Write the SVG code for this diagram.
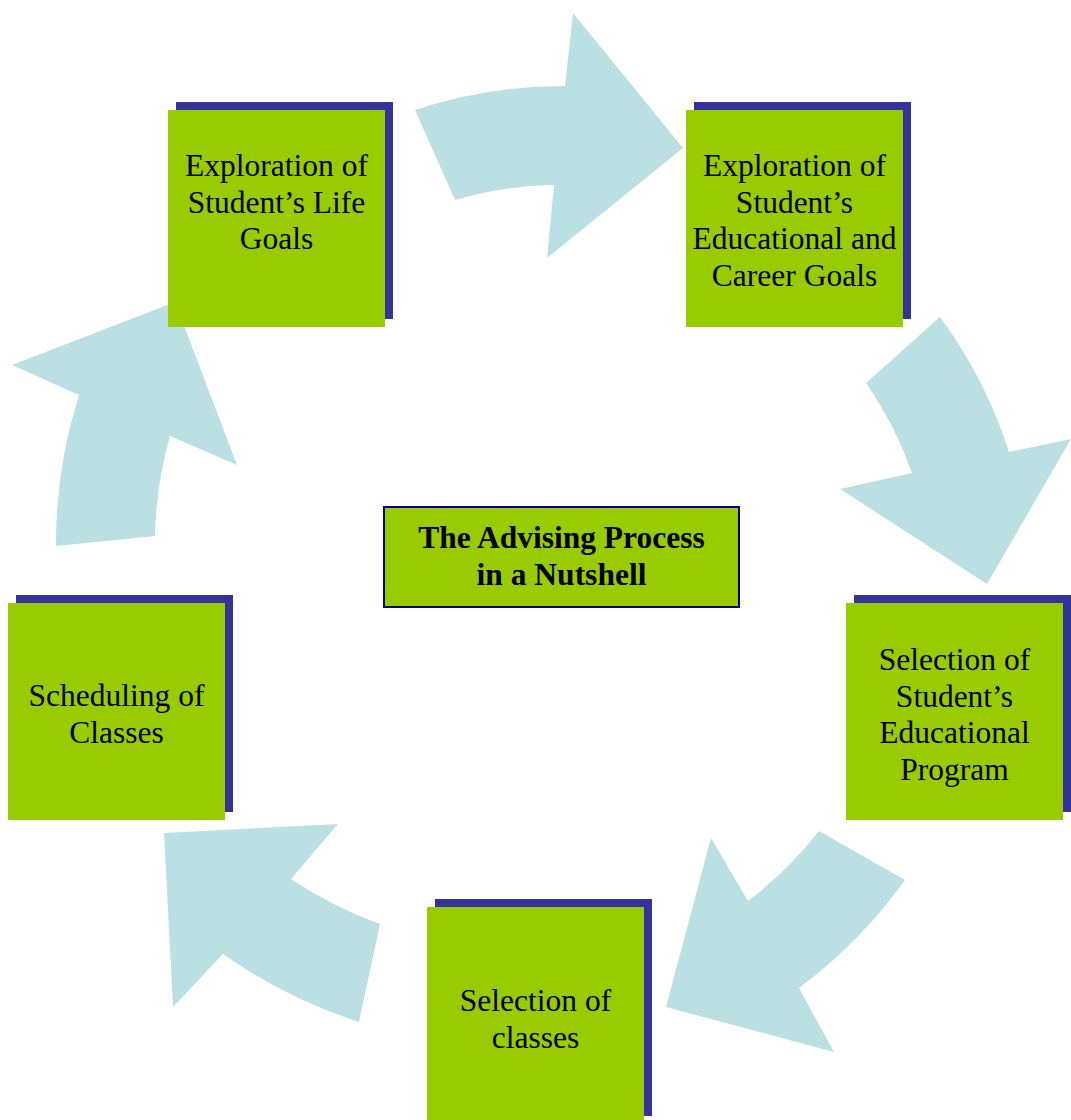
<svg xmlns="http://www.w3.org/2000/svg" width="1071" height="1120" viewBox="0 0 1071 1120">
<style>
.arrow{fill:#BBE0E3;stroke:none}
.shadow{fill:#333399}
.box{fill:#99CC00}
.t{font-family:"Liberation Serif","Times New Roman",serif;font-size:31.5px;fill:#000;text-anchor:middle}
.b{font-weight:bold}
</style>
<rect width="1071" height="1120" fill="#fff"/>
<g id="connectors">
<path class="arrow" d="M415,110 A467 467 0 0 1 565,86 L573,13 L683,148 L547,258 L554,185 A368 368 0 0 0 455,200 Z"/>
<path class="arrow" d="M940,317 A468 468 0 0 1 1009,452 L1071,439 L987,584 L840,489 L912,473 A370 370 0 0 0 866,383 Z"/>
<path class="arrow" d="M905,880 A493 493 0 0 1 799,988 L834,1052 L666,1007 L711,838 L748,901 A395 395 0 0 0 819,831 Z"/>
<path class="arrow" d="M359,1022 A505 505 0 0 1 223,954 L173,1007 L164,833 L338,824 L291,879 A408 408 0 0 0 380,924 Z"/>
<path class="arrow" d="M56,546 A490 490 0 0 1 79,395 L12,365 L175,302 L237,465 L170,436 A392 392 0 0 0 155,536 Z"/>
</g>
<g id="node-life">
<rect class="shadow" x="176" y="102" width="217" height="217"/>
<rect class="box" x="168" y="110" width="217" height="217"/>
<text class="t"><tspan x="276.5" y="176">Exploration of</tspan><tspan x="276.5" y="212.7">Student’s Life</tspan><tspan x="276.5" y="249.4">Goals</tspan></text>
</g>
<g id="node-career">
<rect class="shadow" x="694" y="102" width="217" height="217"/>
<rect class="box" x="686" y="110" width="217" height="217"/>
<text class="t"><tspan x="794.5" y="176">Exploration of</tspan><tspan x="794.5" y="212.7">Student’s</tspan><tspan x="794.5" y="249.4">Educational and</tspan><tspan x="794.5" y="286.1">Career Goals</tspan></text>
</g>
<g id="node-program">
<rect class="shadow" x="854" y="595" width="217" height="217"/>
<rect class="box" x="846" y="603" width="217" height="217"/>
<text class="t"><tspan x="954.5" y="670">Selection of</tspan><tspan x="954.5" y="706.7">Student’s</tspan><tspan x="954.5" y="743.4">Educational</tspan><tspan x="954.5" y="780.1">Program</tspan></text>
</g>
<g id="node-classes">
<rect class="shadow" x="435" y="899" width="217" height="217"/>
<rect class="box" x="427" y="907" width="217" height="217"/>
<text class="t"><tspan x="535.5" y="1011">Selection of</tspan><tspan x="535.5" y="1047.7">classes</tspan></text>
</g>
<g id="node-scheduling">
<rect class="shadow" x="16" y="595" width="217" height="217"/>
<rect class="box" x="8" y="603" width="217" height="217"/>
<text class="t"><tspan x="116.5" y="706">Scheduling of</tspan><tspan x="116.5" y="742.7">Classes</tspan></text>
</g>
<g id="node-center">
<rect x="384" y="507" width="355" height="100" fill="#99CC00" stroke="#000099" stroke-width="2"/>
<text class="t b"><tspan x="561.5" y="548">The Advising Process</tspan><tspan x="561.5" y="585">in a Nutshell</tspan></text>
</g>
</svg>
